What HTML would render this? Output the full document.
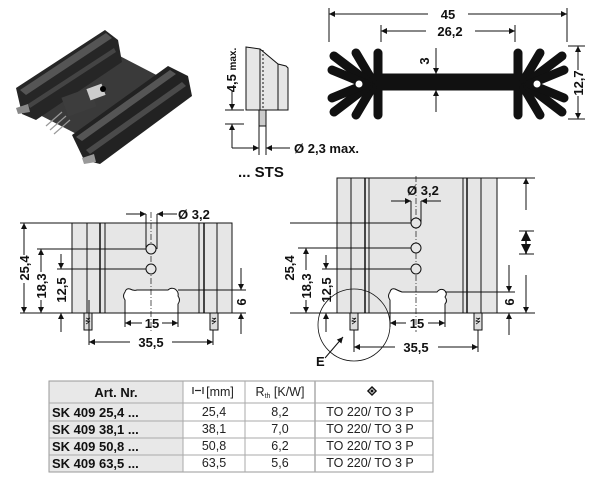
<!DOCTYPE html>
<html><head><meta charset="utf-8"><style>
html,body{margin:0;padding:0;background:#fff;}
svg{display:block;}
text{font-family:"Liberation Sans",sans-serif;}
.b{font-weight:bold;font-size:13px;fill:#111;}
.t{font-size:12.5px;fill:#222;}
</style></head><body>
<svg width="600" height="491" viewBox="0 0 600 491" xmlns="http://www.w3.org/2000/svg">
<defs>
<marker id="a" viewBox="0 0 10 10" refX="10" refY="5" markerWidth="10" markerHeight="6" orient="auto-start-reverse" markerUnits="userSpaceOnUse"><path d="M0,0 L10,5 L0,10 z" fill="#111"/></marker>
</defs>
<g stroke="#111" stroke-width="1" fill="none">

<!-- Photo -->
<g stroke="none">
<polygon points="34,112 112,52 170,82 92,142" fill="#3a3a3a"/>
<polygon points="16,88 105,30 118,40 122,62 36,120 22,114" fill="#262626"/>
<polygon points="20,90 106,33 112,38 26,95" fill="#555"/>
<polygon points="28,104 114,48 116,52 30,108" fill="#444"/>
<polygon points="72,135 168,66 188,76 192,96 100,164 84,160" fill="#222"/>
<polygon points="76,137 170,70 176,74 82,141" fill="#555"/>
<polygon points="86,150 182,82 186,86 90,154" fill="#4a4a4a"/>
<rect x="64" y="92" width="30" height="20" fill="#3d3d3d" transform="rotate(-20 79 102)"/>
<rect x="88" y="86" width="16" height="12" fill="#ccc" transform="rotate(-20 96 92)"/>
<circle cx="103" cy="89" r="3" fill="#000"/>
<polygon points="16,108 28,104 30,112 18,114" fill="#888"/>
<polygon points="82,158 94,154 96,162 84,164" fill="#999"/>
</g>
<g stroke="#999" stroke-width="1.2"><line x1="46" y1="126" x2="62" y2="112"/><line x1="50" y1="130" x2="66" y2="116"/><line x1="54" y1="134" x2="70" y2="120"/></g>

<!-- Side view -->
<path d="M246,47 L260,49 L278,64 L286,66 L288,68 L288,110 L246,110 Z" fill="#e6e6e6"/>
<line x1="260" y1="49" x2="260" y2="110"/><line x1="278" y1="64" x2="278" y2="110"/>
<line x1="263" y1="50" x2="263" y2="110" stroke-dasharray="2,2"/>
<rect x="259" y="110" width="7" height="16" fill="#ccc"/>
<line x1="259" y1="126" x2="259" y2="155"/><line x1="266" y1="126" x2="266" y2="155"/>
<line x1="225" y1="110" x2="244" y2="110"/><line x1="225" y1="124" x2="244" y2="124"/>
<line x1="232" y1="90" x2="232" y2="110" marker-end="url(#a)"/>
<line x1="232" y1="144" x2="232" y2="124" marker-end="url(#a)"/>
<line x1="232" y1="124" x2="232" y2="148"/><line x1="232" y1="148" x2="259" y2="148" marker-end="url(#a)"/>
<line x1="290" y1="148" x2="266" y2="148" marker-end="url(#a)"/>

<!-- Profile view -->
<rect x="378" y="74" width="140" height="16" fill="#111"/>
<g stroke-width="9" stroke-linecap="round" stroke="#111">
<line x1="378" y1="53" x2="378" y2="115"/>
<line x1="518" y1="53" x2="518" y2="115"/>
<line x1="372" y1="80" x2="356" y2="53"/><line x1="368" y1="82" x2="334" y2="56"/><line x1="366" y1="84" x2="332" y2="70"/>
<line x1="372" y1="88" x2="356" y2="115"/><line x1="368" y1="86" x2="334" y2="112"/><line x1="366" y1="84" x2="332" y2="98"/>
<line x1="524" y1="80" x2="540" y2="53"/><line x1="528" y1="82" x2="562" y2="56"/><line x1="530" y1="84" x2="564" y2="70"/>
<line x1="524" y1="88" x2="540" y2="115"/><line x1="528" y1="86" x2="562" y2="112"/><line x1="530" y1="84" x2="564" y2="98"/>
</g>
<circle cx="359" cy="84" r="3.5" fill="#fff" stroke="none"/><circle cx="537" cy="84" r="3.5" fill="#fff" stroke="none"/>
<line x1="329" y1="8" x2="329" y2="42"/><line x1="567" y1="8" x2="567" y2="42"/>
<line x1="381" y1="25" x2="381" y2="42"/><line x1="515" y1="25" x2="515" y2="42"/>
<line x1="428" y1="14" x2="329" y2="14" marker-end="url(#a)"/><line x1="468" y1="14" x2="567" y2="14" marker-end="url(#a)"/>
<line x1="426" y1="31" x2="381" y2="31" marker-end="url(#a)"/><line x1="475" y1="31" x2="515" y2="31" marker-end="url(#a)"/>
<line x1="436" y1="48" x2="436" y2="74" marker-end="url(#a)"/><line x1="436" y1="112" x2="436" y2="90" marker-end="url(#a)"/>
<line x1="568" y1="46" x2="585" y2="46"/><line x1="568" y1="119" x2="585" y2="119"/>
<line x1="578" y1="70" x2="578" y2="46" marker-end="url(#a)"/><line x1="578" y1="96" x2="578" y2="119" marker-end="url(#a)"/>

<!-- Left front view -->
<rect x="72" y="223" width="160" height="90" fill="#e6e6e6"/>
<line x1="87" y1="223" x2="87" y2="313"/><line x1="100" y1="223" x2="100" y2="313" stroke-width="1.5"/><line x1="105" y1="223" x2="105" y2="313"/>
<line x1="199" y1="223" x2="199" y2="313"/><line x1="204" y1="223" x2="204" y2="313" stroke-width="1.5"/><line x1="217" y1="223" x2="217" y2="313"/>
<path d="M125,313 L125,300 Q122,296 125,292 Q126,288 130,289 Q134,291 137,290 L168,290 Q171,287 175,289 Q179,292 178,296 Q181,300 178,304 L178,313 Z" fill="#fff"/>
<line x1="151" y1="212" x2="151" y2="332" stroke-dasharray="6,2,1,2" stroke-width="0.7"/>
<circle cx="151" cy="249" r="5" fill="#e6e6e6"/><circle cx="151" cy="269" r="5" fill="#e6e6e6"/>
<line x1="146" y1="214" x2="146" y2="249"/><line x1="157" y1="214" x2="157" y2="249"/>
<line x1="126" y1="214" x2="146" y2="214" marker-end="url(#a)"/><line x1="177" y1="214" x2="157" y2="214" marker-end="url(#a)"/>
<rect x="84" y="313" width="8" height="17" fill="#ddd"/><rect x="210" y="313" width="8" height="17" fill="#ddd"/>
<path d="M86,318 q2,1 4,0 q-2,2 -4,3 q2,1 4,0 q-2,2 -4,3" stroke-width="0.8"/>
<path d="M212,318 q2,1 4,0 q-2,2 -4,3 q2,1 4,0 q-2,2 -4,3" stroke-width="0.8"/>
<line x1="89" y1="300" x2="89" y2="345"/><line x1="213" y1="330" x2="213" y2="345"/>
<line x1="20" y1="223" x2="72" y2="223"/><line x1="20" y1="313" x2="72" y2="313"/>
<line x1="37" y1="249" x2="146" y2="249"/><line x1="57" y1="269" x2="146" y2="269"/>
<line x1="24" y1="255" x2="24" y2="223" marker-end="url(#a)"/><line x1="24" y1="283" x2="24" y2="313" marker-end="url(#a)"/>
<line x1="41" y1="272" x2="41" y2="249" marker-end="url(#a)"/><line x1="41" y1="300" x2="41" y2="313" marker-end="url(#a)"/>
<line x1="61" y1="254" x2="61" y2="269" marker-end="url(#a)"/><line x1="61" y1="332" x2="61" y2="313" marker-end="url(#a)"/>
<line x1="178" y1="290" x2="246" y2="290"/><line x1="232" y1="313" x2="246" y2="313"/>
<line x1="241" y1="268" x2="241" y2="290" marker-end="url(#a)"/><line x1="241" y1="334" x2="241" y2="313" marker-end="url(#a)"/>
<line x1="125" y1="313" x2="125" y2="327"/><line x1="178" y1="313" x2="178" y2="327"/>
<line x1="142" y1="323" x2="125" y2="323" marker-end="url(#a)"/><line x1="162" y1="323" x2="178" y2="323" marker-end="url(#a)"/>
<line x1="130" y1="342" x2="89" y2="342" marker-end="url(#a)"/><line x1="172" y1="342" x2="213" y2="342" marker-end="url(#a)"/>

<!-- Right front view -->
<rect x="337" y="178" width="160" height="135" fill="#e6e6e6"/>
<line x1="351" y1="178" x2="351" y2="313"/><line x1="365" y1="178" x2="365" y2="313" stroke-width="1.5"/><line x1="369" y1="178" x2="369" y2="313"/>
<line x1="463" y1="178" x2="463" y2="313"/><line x1="467" y1="178" x2="467" y2="313" stroke-width="1.5"/><line x1="481" y1="178" x2="481" y2="313"/>
<path d="M390,313 L390,300 Q387,296 390,292 Q391,288 395,289 Q399,291 402,292 L437,292 Q440,288 444,290 Q448,293 445,297 Q448,301 445,304 L445,313 Z" fill="#fff"/>
<line x1="416" y1="176" x2="416" y2="332" stroke-dasharray="6,2,1,2" stroke-width="0.7"/>
<circle cx="416" cy="223" r="5" fill="#e6e6e6"/><circle cx="416" cy="248" r="5" fill="#e6e6e6"/><circle cx="416" cy="269" r="5" fill="#e6e6e6"/>
<line x1="411" y1="201" x2="411" y2="223"/><line x1="421" y1="201" x2="421" y2="223"/>
<line x1="391" y1="201" x2="411" y2="201" marker-end="url(#a)"/><line x1="441" y1="201" x2="421" y2="201" marker-end="url(#a)"/>
<rect x="350" y="313" width="8" height="17" fill="#ddd"/><rect x="474" y="313" width="8" height="17" fill="#ddd"/>
<path d="M352,318 q2,1 4,0 q-2,2 -4,3 q2,1 4,0 q-2,2 -4,3" stroke-width="0.8"/>
<path d="M476,318 q2,1 4,0 q-2,2 -4,3 q2,1 4,0 q-2,2 -4,3" stroke-width="0.8"/>
<circle cx="354" cy="325" r="36" stroke-width="0.8"/>
<line x1="325" y1="358" x2="343" y2="337" marker-end="url(#a)"/>
<line x1="354" y1="330" x2="354" y2="352"/><line x1="478" y1="330" x2="478" y2="352"/>
<line x1="395" y1="347" x2="354" y2="347" marker-end="url(#a)"/><line x1="438" y1="347" x2="478" y2="347" marker-end="url(#a)"/>
<line x1="390" y1="313" x2="390" y2="327"/><line x1="445" y1="313" x2="445" y2="327"/>
<line x1="406" y1="323" x2="390" y2="323" marker-end="url(#a)"/><line x1="428" y1="323" x2="445" y2="323" marker-end="url(#a)"/>
<line x1="290" y1="223" x2="411" y2="223"/><line x1="298" y1="248" x2="411" y2="248"/><line x1="322" y1="269" x2="411" y2="269"/>
<line x1="290" y1="313" x2="337" y2="313"/>
<line x1="306" y1="270" x2="306" y2="248" marker-end="url(#a)"/><line x1="306" y1="300" x2="306" y2="313" marker-end="url(#a)"/>
<line x1="326" y1="255" x2="326" y2="269" marker-end="url(#a)"/><line x1="326" y1="332" x2="326" y2="313" marker-end="url(#a)"/>
<line x1="445" y1="292" x2="515" y2="292"/><line x1="497" y1="313" x2="535" y2="313"/><line x1="497" y1="178" x2="535" y2="178"/>
<line x1="509" y1="265" x2="509" y2="292" marker-end="url(#a)"/><line x1="509" y1="335" x2="509" y2="313" marker-end="url(#a)"/>
<line x1="526" y1="210" x2="526" y2="178" marker-end="url(#a)"/><line x1="526" y1="275" x2="526" y2="313" marker-end="url(#a)"/>
<line x1="519" y1="231" x2="534" y2="231"/><line x1="519" y1="254" x2="534" y2="254"/>
<line x1="526" y1="231" x2="526" y2="254" stroke-width="1.5"/>
</g>
<polygon points="526,231 521,241 531,241" fill="#111"/>
<polygon points="526,254 521,244 531,244" fill="#111"/>

<!-- Labels -->
<g class="b">
<text x="448" y="19" text-anchor="middle">45</text>
<text x="450" y="36" text-anchor="middle">26,2</text>
<text transform="translate(429,61) rotate(-90)" text-anchor="middle">3</text>
<text transform="translate(583,83) rotate(-90)" text-anchor="middle">12,7</text>
<text transform="translate(236,70) rotate(-90)" text-anchor="middle">4,5 <tspan font-size="10">max.</tspan></text>
<text x="294" y="153">Ø 2,3 max.</text>
<text x="238" y="177" font-size="15">... STS</text>
<text x="178" y="219">Ø 3,2</text>
<text transform="translate(29,268) rotate(-90)" text-anchor="middle">25,4</text>
<text transform="translate(46,286) rotate(-90)" text-anchor="middle">18,3</text>
<text transform="translate(66,290) rotate(-90)" text-anchor="middle">12,5</text>
<text transform="translate(246,302) rotate(-90)" text-anchor="middle">6</text>
<text x="152" y="328" text-anchor="middle">15</text>
<text x="151" y="347" text-anchor="middle">35,5</text>
<text x="407" y="195">Ø 3,2</text>
<text transform="translate(294,268) rotate(-90)" text-anchor="middle">25,4</text>
<text transform="translate(311,286) rotate(-90)" text-anchor="middle">18,3</text>
<text transform="translate(331,290) rotate(-90)" text-anchor="middle">12,5</text>
<text transform="translate(514,302) rotate(-90)" text-anchor="middle">6</text>
<text x="417" y="328" text-anchor="middle">15</text>
<text x="416" y="352" text-anchor="middle">35,5</text>
<text x="316" y="366">E</text>
</g>

<!-- Table -->
<rect x="49" y="381" width="134" height="91" fill="#e8e8e8"/>
<rect x="49" y="381" width="384" height="91" fill="none" stroke="#999"/>
<g stroke="#aaa" fill="none">
<line x1="183" y1="381" x2="183" y2="472"/><line x1="245" y1="381" x2="245" y2="472"/><line x1="315" y1="381" x2="315" y2="472" stroke-width="1.5"/>
<line x1="49" y1="403" x2="433" y2="403"/><line x1="49" y1="421" x2="433" y2="421"/><line x1="49" y1="438" x2="433" y2="438"/><line x1="49" y1="455" x2="433" y2="455"/>
</g>
<g class="b">
<text x="116" y="397" text-anchor="middle">Art. Nr.</text>
<text x="52" y="417">SK 409 25,4 ...</text>
<text x="52" y="434">SK 409 38,1 ...</text>
<text x="52" y="451">SK 409 50,8 ...</text>
<text x="52" y="468">SK 409 63,5 ...</text>
</g>
<g class="t" text-anchor="middle">
<text x="220" y="396">[mm]</text>
<text x="280" y="396">R<tspan font-size="7" dy="2">th</tspan><tspan dy="-2"> [K/W]</tspan></text>
<text x="214" y="416">25,4</text><text x="280" y="416">8,2</text><text x="370" y="416">TO 220/ TO 3 P</text>
<text x="214" y="433">38,1</text><text x="280" y="433">7,0</text><text x="370" y="433">TO 220/ TO 3 P</text>
<text x="214" y="450">50,8</text><text x="280" y="450">6,2</text><text x="370" y="450">TO 220/ TO 3 P</text>
<text x="214" y="467">63,5</text><text x="280" y="467">5,6</text><text x="370" y="467">TO 220/ TO 3 P</text>
</g>
<g stroke="#222" stroke-width="1.2">
<line x1="193" y1="387" x2="193" y2="394"/><line x1="203" y1="387" x2="203" y2="394"/><line x1="195" y1="390.5" x2="201" y2="390.5"/>
</g>
<path d="M372,387 l4,4 l-4,4 l-4,-4 z" fill="none" stroke="#111" stroke-width="1.5"/>
<circle cx="372" cy="391" r="1.5" fill="#111"/>
</svg>
</body></html>
